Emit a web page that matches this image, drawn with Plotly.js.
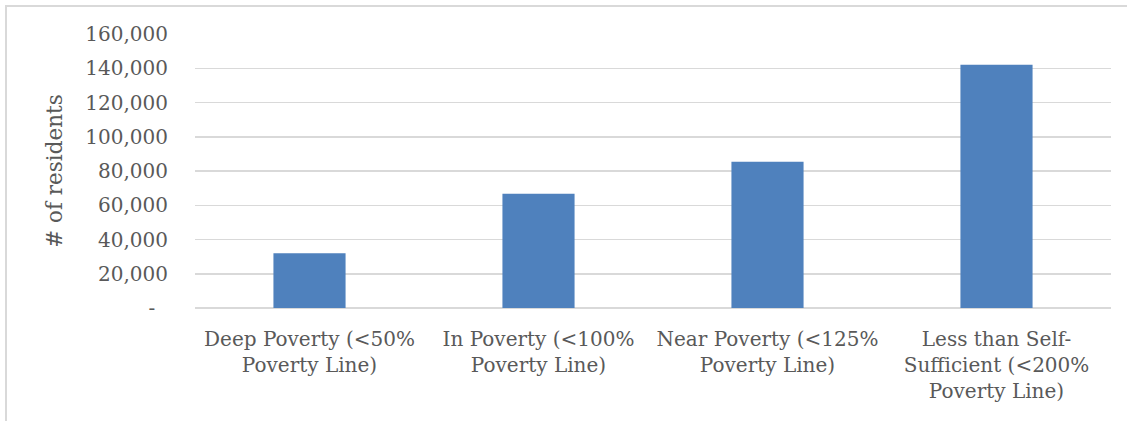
<!DOCTYPE html>
<html>
<head>
<meta charset="utf-8">
<script src="https://cdn.plot.ly/plotly-3.0.1.min.js"></script>
<style>
  html, body { margin: 0; padding: 0; background: #fff; overflow: hidden; }
  #frame { position: absolute; left: 5px; top: 5px; width: 1122px; height: 416px;
           border-left: 2px solid #D9D9D9; border-top: 2px solid #D9D9D9; box-sizing: border-box; }
  #chart { position: absolute; left: 0; top: 0; width: 1127px; height: 421px; }
</style>
</head>
<body>
<div id="frame"></div>
<div id="chart"></div>
<script>
const categories = [
  "Deep Poverty (<50%<br>Poverty Line)",
  "In Poverty (<100%<br>Poverty Line)",
  "Near Poverty (<125%<br>Poverty Line)",
  "Less than Self-<br>Sufficient (<200%<br>Poverty Line)"
];
const residents = [32000, 66700, 85400, 142100];
const yTickValues = [0, 20000, 40000, 60000, 80000, 100000, 120000, 140000, 160000];
const yTickLabels = ["-\u00A0\u00A0", "20,000", "40,000", "60,000", "80,000", "100,000", "120,000", "140,000", "160,000"];
const yTitle = "# of residents";

const font = { family: "DejaVu Serif, serif", size: 20, color: "#595959" };

Plotly.newPlot("chart", [{
  type: "bar",
  x: categories,
  y: residents,
  marker: { color: "#4F81BD" },
  hoverinfo: "skip"
}], {
  width: 1127, height: 421,
  margin: { l: 195, r: 16, t: 34, b: 113 },
  paper_bgcolor: "rgba(0,0,0,0)",
  plot_bgcolor: "rgba(0,0,0,0)",
  bargap: 0.685,
  font: font,
  showlegend: false,
  xaxis: {
    type: "category",
    showgrid: false,
    showline: false,
    zeroline: false,
    ticks: "",
    ticklabelstandoff: 17,
    tickfont: font
  },
  yaxis: {
    range: [0, 160000],
    tickvals: yTickValues,
    ticktext: yTickLabels,
    showgrid: true,
    gridcolor: "#D9D9D9",
    gridwidth: 1.5,
    zeroline: true,
    zerolinecolor: "#D9D9D9",
    zerolinewidth: 1.5,
    showline: false,
    ticks: "",
    ticklabelstandoff: 26,
    tickfont: font,
    title: { text: yTitle, font: { family: "DejaVu Serif, serif", size: 21.5, color: "#595959" }, standoff: 16 },
    automargin: false
  }
}, { staticPlot: true, displayModeBar: false });
</script>
</body>
</html>
